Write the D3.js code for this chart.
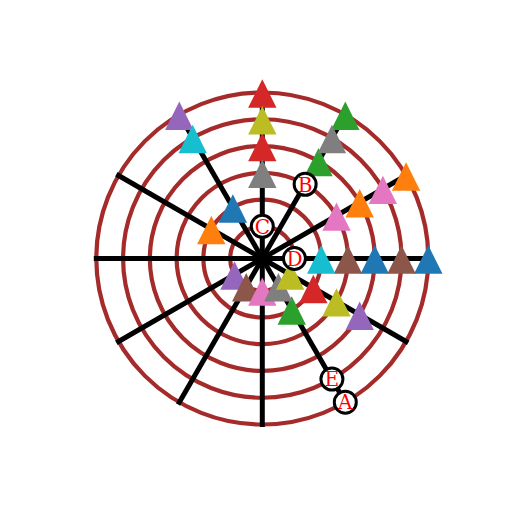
<!DOCTYPE html>
<html>
<head>
<meta charset="utf-8">
<script src="https://cdn.jsdelivr.net/npm/d3@7"></script>
<style>
  html, body { margin: 0; padding: 0; background: #ffffff; }
  svg { display: block; }
</style>
</head>
<body>
<div id="chart"></div>
<script>
// ---- data ----
const ringValues = [1, 2, 3, 4, 5, 6];
const spokeAngles = [0, 30, 60, 90, 120, 150, 180, 210, 240, 270, 300, 330];
const seriesTheta = [
  [0, 0, 120], [30, 30, 150], [60, 60, 300], [90, 90, 330], [120, 330, 210],
  [0, 0, 240], [30, 30, 270], [60, 90, 300], [90, 330, 330], [0, 120]
];
const seriesR = [
  [4, 6, 2], [4, 6, 2], [4, 6, 2], [4, 6, 2], [6, 4, 1],
  [3, 5, 1], [3, 5, 1], [5, 3, 1], [5, 3, 1], [2, 5]
];
const labelText = ["A", "B", "C", "D", "E"];
const labelTheta = [300, 60, 90, 0, 300];
const labelR = [6, 3, 1, 1, 5];

// ---- layout ----
const W = 512, H = 512, cx = 262.3, cy = 258.5, R = 166;
const svg = d3.select("#chart").append("svg").attr("width", W).attr("height", H);
const g = svg.append("g").attr("transform", `translate(${cx},${cy})`);

const rScale = d3.scaleLinear().domain([-0.2, 6]).range([0, R]);
const colors = d3.schemeCategory10;
const rad = d => d * Math.PI / 180;
const px = (t, r) => rScale(r) * Math.cos(rad(t));
const py = (t, r) => -rScale(r) * Math.sin(rad(t));

// rings
g.selectAll("circle.ring").data(ringValues).join("circle")
  .attr("class", "ring")
  .attr("r", d => rScale(d))
  .attr("fill", "none")
  .attr("stroke", "#a52a2a")
  .attr("stroke-width", 4.2);

// spokes
g.selectAll("line.spoke").data(spokeAngles).join("line")
  .attr("class", "spoke")
  .attr("x1", 0).attr("y1", 0)
  .attr("x2", d => (R + 2.5) * Math.cos(rad(d)))
  .attr("y2", d => -(R + 2.5) * Math.sin(rad(d)))
  .attr("stroke", "#000")
  .attr("stroke-width", 5);

// triangles
const hs = 14.2;
const tri = (x, y) => {
  const p = d3.path();
  y += 1;
  p.moveTo(x, y - hs); p.lineTo(x - hs, y + hs); p.lineTo(x + hs, y + hs); p.closePath();
  return p.toString();
};
seriesTheta.forEach((ths, i) => {
  const pts = ths.map((t, j) => ({ t, r: seriesR[i][j] }));
  g.append("g").selectAll("path").data(pts).join("path")
    .attr("d", d => tri(px(d.t, d.r), py(d.t, d.r)))
    .attr("fill", colors[i % 10]);
});

// labels
const lab = labelText.map((s, i) => ({ s, t: labelTheta[i], r: labelR[i] }));
const lg = g.selectAll("g.lab").data(lab).join("g")
  .attr("class", "lab")
  .attr("transform", d => `translate(${px(d.t, d.r)},${py(d.t, d.r)})`);
lg.append("circle").attr("r", 11).attr("fill", "#fff").attr("stroke", "#000").attr("stroke-width", 3);
lg.append("text").text(d => d.s)
  .attr("text-anchor", "middle")
  .attr("dy", "0.36em")
  .attr("font-family", "DejaVu Serif")
  .attr("font-size", 20)
  .attr("fill", "red");
</script>
</body>
</html>
